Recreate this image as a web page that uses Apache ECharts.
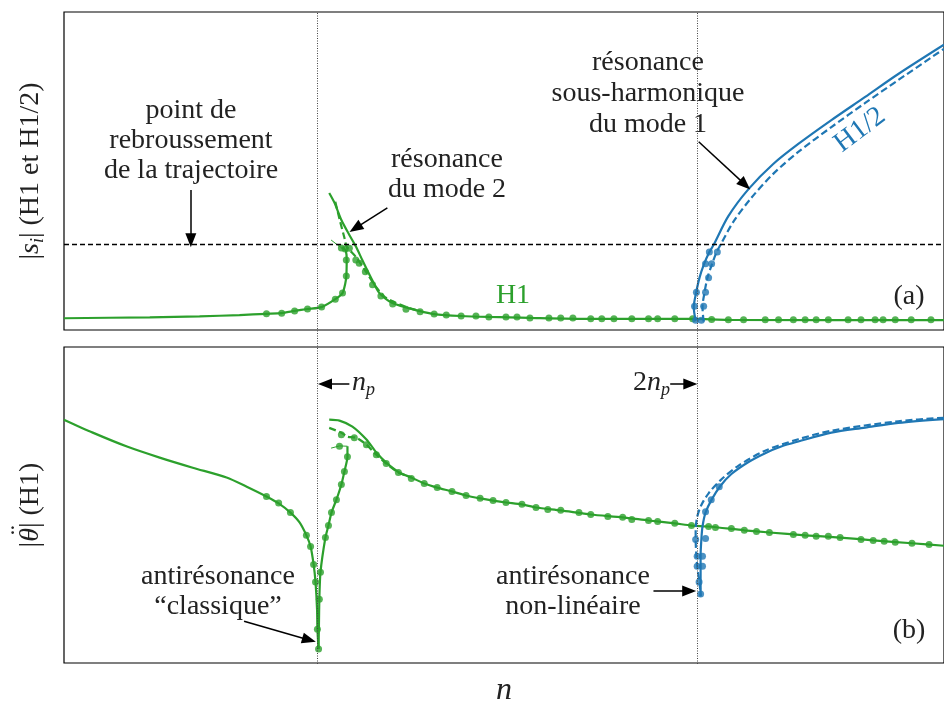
<!DOCTYPE html>
<html><head><meta charset="utf-8">
<script src="https://cdn.jsdelivr.net/npm/echarts@6/dist/echarts.min.js"></script>
<style>html,body{margin:0;padding:0;background:#fff}#c{width:944px;height:708px}</style>
</head><body><div id="c"></div>
<script>
// x in units of n / n_p ; y normalised amplitude (no tick labels in the original)
const xMin = 1/3, xMax = 1/3 + 882/381;
const vLines = [1, 2];           // n_p and 2 n_p
const hLineA = 0.268;            // point de rebroussement level

// ---- panel (a) |s_i| ----
const aH1Lower = [[0.333,0.037],[0.559,0.040],[0.690,0.043],[0.795,0.047],[0.866,0.051],[0.906,0.053],[0.940,0.060],[0.974,0.066],[1.011,0.072],[1.047,0.097],[1.066,0.116],[1.073,0.145],[1.076,0.170],[1.077,0.220],[1.075,0.248],[1.069,0.257],[1.063,0.259]];
const aH1Fold = [[1.063,0.259],[1.050,0.270],[1.036,0.283]];
const aH1Upper = [[1.031,0.431],[1.045,0.400],[1.063,0.346],[1.084,0.299],[1.102,0.261],[1.118,0.220],[1.144,0.157],[1.163,0.116],[1.197,0.085],[1.268,0.060],[1.307,0.050],[1.378,0.044],[1.451,0.041],[1.559,0.038],[1.719,0.035],[1.987,0.035],[2.081,0.032],[2.648,0.031]];
const aH1Dash = [[1.047,0.403],[1.060,0.340],[1.071,0.290],[1.077,0.262],[1.101,0.230],[1.128,0.183],[1.150,0.142],[1.176,0.105],[1.207,0.085],[1.241,0.069],[1.268,0.060]];
const aH1Dots = [[0.866,0.051],[0.906,0.053],[0.940,0.060],[0.974,0.066],[1.011,0.072],[1.047,0.097],[1.066,0.116],[1.076,0.170],[1.076,0.220],[1.073,0.255],[1.063,0.258],
 [1.084,0.257],[1.101,0.220],[1.110,0.210],[1.126,0.183],[1.145,0.142],[1.167,0.107],[1.198,0.082],[1.233,0.065],
 [1.270,0.057],[1.307,0.050],[1.339,0.047],[1.378,0.044],[1.417,0.044],[1.451,0.041],[1.496,0.041],[1.525,0.041],[1.559,0.038],[1.609,0.038],[1.640,0.038],[1.672,0.038],[1.719,0.035],[1.748,0.035],[1.780,0.035],[1.827,0.035],[1.871,0.035],[1.895,0.035],[1.940,0.035],[1.987,0.035],
 [2.037,0.033],[2.081,0.032],[2.121,0.032],[2.178,0.032],[2.213,0.032],[2.252,0.032],[2.283,0.032],[2.312,0.032],[2.344,0.032],[2.396,0.032],[2.430,0.032],[2.467,0.032],[2.488,0.032],[2.520,0.032],[2.562,0.032],[2.614,0.032]];
const aH12Solid = [[1.995,0.028],[1.990,0.072],[1.996,0.116],[2.005,0.164],[2.016,0.204],[2.031,0.245],[2.042,0.267],[2.081,0.358],[2.134,0.443],[2.199,0.522],[2.265,0.585],[2.352,0.660],[2.441,0.733],[2.528,0.805],[2.648,0.897]];
const aH12Dash = [[2.016,0.026],[2.013,0.072],[2.018,0.116],[2.026,0.164],[2.037,0.204],[2.050,0.245],[2.060,0.267],[2.094,0.340],[2.141,0.415],[2.199,0.491],[2.265,0.560],[2.352,0.638],[2.441,0.714],[2.528,0.786],[2.648,0.884]];
const aH12Dots = [[1.995,0.031],[1.992,0.075],[1.997,0.119],[2.021,0.208],[2.031,0.245],[2.010,0.031],[2.016,0.075],[2.021,0.119],[2.029,0.164],[2.037,0.208],[2.052,0.245]];

// ---- panel (b) |theta''| ----
const bH1Left = [[0.333,0.770],[0.409,0.729],[0.499,0.685],[0.585,0.650],[0.672,0.618],[0.761,0.587],[0.814,0.558],[0.866,0.527],[0.898,0.505],[0.929,0.476],[0.953,0.445],[0.971,0.404],[0.982,0.369],[0.990,0.312],[0.995,0.256],[0.999,0.170],[1.000,0.107],[1.003,0.044]];
const bH1Rise = [[1.003,0.044],[1.004,0.120],[1.005,0.202],[1.008,0.287],[1.021,0.397],[1.029,0.435],[1.037,0.476],[1.050,0.517],[1.063,0.565],[1.071,0.606],[1.079,0.653],[1.079,0.686]];
const bH1Fold = [[1.079,0.686],[1.058,0.687],[1.036,0.680]];
const bH1Upper = [[1.031,0.770],[1.058,0.767],[1.092,0.748],[1.129,0.707],[1.155,0.666],[1.181,0.634],[1.215,0.603],[1.247,0.587],[1.281,0.568],[1.315,0.555],[1.354,0.543],[1.391,0.530],[1.428,0.521],[1.462,0.514],[1.496,0.508],[1.538,0.502],[1.575,0.492],[1.640,0.483],[1.719,0.470],[1.803,0.461],[1.871,0.451],[1.940,0.442],[1.984,0.435],[2.029,0.432],[2.123,0.420],[2.189,0.413],[2.283,0.404],[2.375,0.397],[2.462,0.388],[2.564,0.379],[2.648,0.371]];
const bH1Dash = [[1.031,0.744],[1.063,0.729],[1.079,0.716],[1.102,0.713],[1.129,0.691],[1.155,0.659],[1.181,0.631],[1.213,0.603],[1.247,0.587]];
const bH1Dots = [[0.866,0.527],[0.898,0.506],[0.929,0.476],[0.971,0.404],[0.982,0.369],[0.990,0.312],[0.995,0.256],[1.000,0.107],[1.003,0.044],
 [1.005,0.202],[1.008,0.287],[1.021,0.397],[1.029,0.435],[1.037,0.476],[1.050,0.517],[1.063,0.565],[1.071,0.606],[1.079,0.653],[1.058,0.686],
 [1.063,0.722],[1.097,0.713],[1.129,0.691],[1.155,0.659],[1.181,0.631],[1.213,0.603],[1.247,0.584],
 [1.281,0.568],[1.315,0.555],[1.354,0.543],[1.391,0.530],[1.428,0.521],[1.462,0.514],[1.496,0.508],[1.538,0.502],[1.575,0.492],[1.606,0.486],[1.640,0.483],[1.688,0.476],[1.719,0.470],[1.764,0.464],[1.803,0.461],[1.827,0.454],[1.871,0.451],[1.895,0.448],[1.940,0.442],[1.984,0.435],
 [2.029,0.432],[2.047,0.429],[2.089,0.426],[2.123,0.420],[2.155,0.416],[2.189,0.413],[2.252,0.407],[2.283,0.404],[2.312,0.401],[2.344,0.401],[2.375,0.397],[2.430,0.391],[2.462,0.388],[2.491,0.385],[2.520,0.382],[2.564,0.379],[2.609,0.375]];
const bH12Solid = [[2.648,0.772],[2.528,0.760],[2.441,0.745],[2.352,0.729],[2.265,0.701],[2.220,0.685],[2.178,0.664],[2.134,0.636],[2.089,0.598],[2.060,0.560],[2.037,0.517],[2.021,0.476],[2.013,0.432],[2.010,0.391],[2.008,0.338],[2.008,0.297],[2.008,0.211]];
const bH12Dash = [[2.648,0.776],[2.528,0.765],[2.352,0.735],[2.265,0.708],[2.178,0.672],[2.107,0.624],[2.060,0.578],[2.029,0.537],[2.010,0.500],[1.999,0.462],[1.995,0.420],[1.995,0.391],[1.997,0.338],[2.000,0.297],[2.005,0.256],[2.008,0.211]];
const bH12Dots = [[1.995,0.391],[1.999,0.338],[1.999,0.306],[2.004,0.256],[2.008,0.218],[2.021,0.394],[2.013,0.338],[2.013,0.306],[2.021,0.479],[2.036,0.517],[2.057,0.558]];

// annotation arrows [from, to] in data coordinates
const arrowsA = [[[0.667,0.440],[0.667,0.282]], [[1.184,0.384],[1.100,0.320]], [[2.003,0.592],[2.125,0.457]]];
const arrowsB = [[[1.084,0.883],[1.020,0.883]], [[1.928,0.883],[1.981,0.883]], [[1.884,0.228],[1.978,0.228]]];
const curvedB = [[0.807,0.132],[0.978,0.073]];

const GREEN = '#2ca02c', BLUE = '#1f77b4';
const SERIF = '"Liberation Serif", "DejaVu Serif", serif';

function line(data, color, ax, opts) {
  opts = opts || {};
  return { type:'line', xAxisIndex:ax, yAxisIndex:ax, data:data, symbol:'none', silent:true, animation:false,
    smooth: opts.smooth || false,
    lineStyle:{ color:color, width: opts.width || 2.2, type: opts.dash ? [7,3.5] : 'solid' }, z: opts.z || 2 };
}
function dots(data, color, ax, z) {
  return { type:'scatter', xAxisIndex:ax, yAxisIndex:ax, data:data, symbol:'circle', symbolSize:7, silent:true, animation:false,
    itemStyle:{ color:color }, z: z || 3 };
}
function arrowSeries(ax, list, curved) {
  const d = list.map(p => [{coord:p[0]},{coord:p[1]}]);
  return { type:'line', xAxisIndex:ax, yAxisIndex:ax, data:[], silent:true, animation:false,
    markLine:{ silent:true, animation:false, symbol:['none','triangle'], symbolSize:[11,14], label:{show:false},
      lineStyle:{ color:'#000', width:1.5, type:'solid', curveness: curved || 0 }, data:d }, z:5 };
}

const chart = echarts.init(document.getElementById('c'), null, {renderer:'canvas'});
const axisX = (gi) => ({ type:'value', gridIndex:gi, min:xMin, max:xMax, axisLabel:{show:false}, axisTick:{show:false}, splitLine:{show:false},
  axisLine:{show:false} });
const option = {
  backgroundColor:'#fff',
  animation:false,
  grid:[
    {left:64, top:12, width:882, height:318, show:true, borderColor:'#000', borderWidth:1.2, backgroundColor:'transparent'},
    {left:64, top:347, width:882, height:317, show:true, borderColor:'#000', borderWidth:1.2, backgroundColor:'transparent'},
    {left:64, top:12, width:882, height:652, show:false}
  ],
  xAxis:[
    axisX(0),
    Object.assign(axisX(1), { name:'n', nameLocation:'middle', nameGap:12,
      nameTextStyle:{ fontFamily:SERIF, fontStyle:'italic', fontSize:32, color:'#222' } }),
    axisX(2)
  ],
  yAxis:[
    { type:'value', gridIndex:0, min:0, max:1, axisLabel:{show:false}, axisTick:{show:false}, splitLine:{show:false}, axisLine:{show:false},
      name:'|{it|s}{sub|i}| (H1 et H1/2)', nameLocation:'middle', nameRotate:90, nameGap:17,
      nameTextStyle:{ fontFamily:SERIF, fontSize:28, color:'#222', lineHeight:32,
        rich:{ it:{fontFamily:SERIF, fontStyle:'italic', fontSize:28, color:'#222', lineHeight:32},
               sub:{fontFamily:SERIF, fontStyle:'italic', fontSize:18, color:'#222', lineHeight:18, verticalAlign:'bottom'} } } },
    { type:'value', gridIndex:1, min:0, max:1, axisLabel:{show:false}, axisTick:{show:false}, splitLine:{show:false}, axisLine:{show:false},
      name:'|{it|θ}| (H1)', nameLocation:'middle', nameRotate:90, nameGap:17,
      nameTextStyle:{ fontFamily:SERIF, fontSize:28, color:'#222', lineHeight:32,
        rich:{ it:{fontFamily:SERIF, fontStyle:'italic', fontSize:28, color:'#222', lineHeight:32} } } },
    { type:'value', gridIndex:2, min:0, max:1, show:false }
  ],
  series:[
    { type:'line', xAxisIndex:2, yAxisIndex:2, data:[], silent:true, animation:false,
      markLine:{ silent:true, animation:false, symbol:['none','none'], label:{show:false},
        lineStyle:{color:'#444', width:1, type:[1,1.5]}, data: vLines.map(v => ({xAxis:v})) }, z:1 },
    { type:'line', xAxisIndex:0, yAxisIndex:0, data:[], silent:true, animation:false,
      markLine:{ silent:true, animation:false, symbol:['none','none'], label:{show:false},
        lineStyle:{color:'#000', width:1.3, type:[5,3]}, data:[{yAxis:hLineA}] }, z:1 },
    // panel (a)
    line(aH1Lower, GREEN, 0, {smooth:0.2}),
    line(aH1Fold, GREEN, 0, {width:1}),
    line(aH1Upper, GREEN, 0, {smooth:0.25}),
    line(aH1Dash, GREEN, 0, {dash:true, smooth:0.2}),
    dots(aH1Dots, GREEN, 0),
    line(aH12Solid, BLUE, 0, {z:4, smooth:0.3}),
    line(aH12Dash, BLUE, 0, {dash:true, z:4, smooth:0.3}),
    dots(aH12Dots, BLUE, 0, 4),
    arrowSeries(0, arrowsA),
    // panel (b)
    line(bH1Left, GREEN, 1, {smooth:0.25}),
    line(bH1Rise, GREEN, 1, {smooth:0.2}),
    line(bH1Fold, GREEN, 1, {width:1}),
    line(bH1Upper, GREEN, 1, {smooth:0.25}),
    line(bH1Dash, GREEN, 1, {dash:true, smooth:0.2}),
    dots(bH1Dots, GREEN, 1),
    line(bH12Solid, BLUE, 1, {z:4, smooth:0.3}),
    line(bH12Dash, BLUE, 1, {dash:true, z:4, smooth:0.3}),
    dots(bH12Dots, BLUE, 1, 4),
    arrowSeries(1, arrowsB),
    arrowSeries(1, [curvedB], -0.15)
  ],
  graphic:[
    {type:'text', x:191, y:141, silent:true, style:{text:'point de\nrebroussement\nde la trajectoire', fontFamily:SERIF, fontSize:28, lineHeight:30, fill:'#222', align:'center', verticalAlign:'middle'}},
    {type:'text', x:447, y:175, silent:true, style:{text:'résonance\ndu mode 2', fontFamily:SERIF, fontSize:28, lineHeight:30, fill:'#222', align:'center', verticalAlign:'middle'}},
    {type:'text', x:648, y:94, silent:true, style:{text:'résonance\nsous-harmonique\ndu mode 1', fontFamily:SERIF, fontSize:28, lineHeight:31, fill:'#222', align:'center', verticalAlign:'middle'}},
    {type:'text', x:513, y:296, silent:true, style:{text:'H1', fontFamily:SERIF, fontSize:28, fill:GREEN, align:'center', verticalAlign:'middle'}},
    {type:'text', x:860, y:130, rotation:37*Math.PI/180, silent:true, style:{text:'H1/2', fontFamily:SERIF, fontSize:28, fill:BLUE, align:'center', verticalAlign:'middle'}},
    {type:'text', x:909, y:297, silent:true, style:{text:'(a)', fontFamily:SERIF, fontSize:28, fill:'#222', align:'center', verticalAlign:'middle'}},
    {type:'text', x:909, y:631, silent:true, style:{text:'(b)', fontFamily:SERIF, fontSize:28, fill:'#222', align:'center', verticalAlign:'middle'}},
    // double dot of theta-double-dot (rotated like the axis name)
    {type:'text', x:22, y:530, rotation:Math.PI/2, silent:true, style:{text:'¨', fontFamily:SERIF, fontSize:28, fill:'#222', align:'center', verticalAlign:'middle'}},
    {type:'text', x:352, y:383, silent:true, style:{text:'{it|n}{sub|p}', align:'left', verticalAlign:'middle',
      rich:{ it:{fontFamily:SERIF, fontStyle:'italic', fontSize:28, fill:'#222', lineHeight:32}, sub:{fontFamily:SERIF, fontStyle:'italic', fontSize:18, fill:'#222', lineHeight:18, verticalAlign:'bottom'} }}},
    {type:'text', x:670, y:383, silent:true, style:{text:'{rm|2}{it|n}{sub|p}', align:'right', verticalAlign:'middle',
      rich:{ rm:{fontFamily:SERIF, fontSize:28, fill:'#222', lineHeight:32}, it:{fontFamily:SERIF, fontStyle:'italic', fontSize:28, fill:'#222', lineHeight:32}, sub:{fontFamily:SERIF, fontStyle:'italic', fontSize:18, fill:'#222', lineHeight:18, verticalAlign:'bottom'} }}},
    {type:'text', x:218, y:592, silent:true, style:{text:'antirésonance\n“classique”', fontFamily:SERIF, fontSize:28, lineHeight:30, fill:'#222', align:'center', verticalAlign:'middle'}},
    {type:'text', x:573, y:592, silent:true, style:{text:'antirésonance\nnon-linéaire', fontFamily:SERIF, fontSize:28, lineHeight:30, fill:'#222', align:'center', verticalAlign:'middle'}}
  ]
};
chart.setOption(option);
</script></body></html>
